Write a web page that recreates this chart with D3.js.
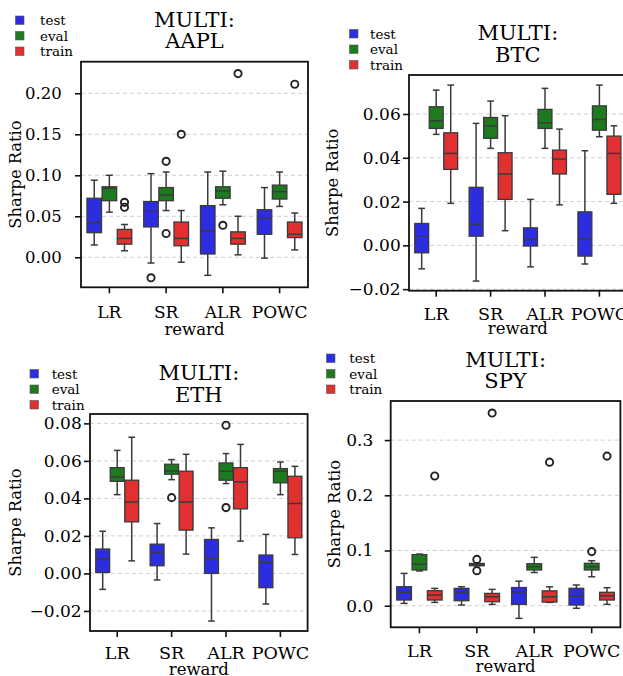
<!DOCTYPE html>
<html><head><meta charset="utf-8">
<script src="https://cdn.jsdelivr.net/npm/d3@7"></script>
<style>
body{margin:0;background:#fff}
svg{display:block}
text{font-family:"DejaVu Serif",serif;fill:#000}
</style>
</head><body><svg id="c" width="623" height="676"></svg>
<script>
// ---------- data ----------
const rewards = ["LR", "SR", "ALR", "POWC"];
const splits = ["test", "eval", "train"];
const splitColors = ["#2d2de0", "#1e7a1e", "#e03030"];
const xLabel = "reward";
const yLabel = "Sharpe Ratio";

// each box: [whiskerLow, q1, median, q3, whiskerHigh]
const aaplTest  = [[0.015,0.030,0.042,0.072,0.094],[-0.007,0.037,0.056,0.068,0.102],[-0.022,0.004,0.032,0.063,0.104],[-0.001,0.028,0.048,0.058,0.085]];
const aaplEval  = [[0.055,0.069,0.084,0.086,0.100],[0.057,0.069,0.076,0.085,0.104],[0.064,0.072,0.081,0.086,0.105],[0.062,0.071,0.080,0.088,0.104]];
const aaplTrain = [[0.008,0.016,0.023,0.034,0.040],[-0.006,0.014,0.023,0.043,0.057],[0.003,0.016,0.023,0.031,0.050],[0.009,0.024,0.028,0.043,0.054]];
const aaplOutliers = [["LR","train",0.067],["LR","train",0.061],["SR","test",-0.025],["SR","eval",0.117],["SR","eval",0.029],["SR","train",0.150],["ALR","eval",0.039],["ALR","train",0.224],["POWC","train",0.211]];
const aaplTicks = [0.00, 0.05, 0.10, 0.15, 0.20];

const btcTest  = [[-0.0107,-0.0034,0.0044,0.0100,0.0169],[-0.0163,0.0042,0.0097,0.0265,0.0557],[-0.0098,-0.0003,0.0027,0.0080,0.0210],[-0.0085,-0.0049,0.0029,0.0153,0.0432]];
const btcEval  = [[0.0507,0.0534,0.0569,0.0633,0.0709],[0.0443,0.0489,0.0546,0.0584,0.0659],[0.0443,0.0534,0.0560,0.0621,0.0717],[0.0496,0.0526,0.0575,0.0637,0.0732]];
const btcTrain = [[0.0192,0.0347,0.0420,0.0514,0.0732],[0.0067,0.0210,0.0326,0.0423,0.0592],[0.0185,0.0326,0.0394,0.0435,0.0531],[0.0192,0.0233,0.0420,0.0499,0.0546]];
const btcOutliers = [];
const btcTicks = [-0.02, 0.00, 0.02, 0.04, 0.06];

const ethTest  = [[-0.0085,0.0005,0.0076,0.0130,0.0225],[-0.0035,0.0041,0.0112,0.0156,0.0266],[-0.0254,0.0000,0.0080,0.0181,0.0243],[-0.0163,-0.0076,0.0057,0.0098,0.0208]];
const ethEval  = [[0.0420,0.0491,0.0514,0.0564,0.0656],[0.0500,0.0529,0.0546,0.0582,0.0607],[0.0479,0.0497,0.0545,0.0589,0.0639],[0.0420,0.0483,0.0545,0.0559,0.0594]];
const ethTrain = [[0.0067,0.0275,0.0381,0.0497,0.0726],[0.0103,0.0231,0.0381,0.0545,0.0635],[0.0172,0.0344,0.0488,0.0564,0.0688],[0.0101,0.0190,0.0373,0.0518,0.0571]];
const ethOutliers = [["SR","eval",0.0404],["ALR","eval",0.079],["ALR","eval",0.0351]];
const ethTicks = [-0.02, 0.00, 0.02, 0.04, 0.06, 0.08];

const spyTest  = [[0.0042,0.0103,0.0241,0.0344,0.0585],[0.0012,0.0090,0.0241,0.0314,0.0344],[-0.0229,0.0024,0.0248,0.0329,0.0444],[-0.0047,0.0013,0.0176,0.0315,0.0375]];
const spyEval  = [[0.0630,0.0647,0.0750,0.0925,0.0935],[0.0724,0.0724,0.0748,0.0766,0.0766],[0.0601,0.0647,0.0707,0.0761,0.0876],[0.0525,0.0647,0.0707,0.0768,0.0815]];
const spyTrain = [[0.0060,0.0103,0.0193,0.0272,0.0314],[0.0024,0.0072,0.0163,0.0223,0.0296],[0.0060,0.0066,0.0163,0.0269,0.0342],[0.0025,0.0103,0.0181,0.0243,0.0326]];
const spyOutliers = [["LR","train",0.235],["SR","eval",0.0839],["SR","eval",0.0634],["SR","train",0.349],["ALR","train",0.260],["POWC","eval",0.098],["POWC","train",0.271]];
const spyTicks = [0.0, 0.1, 0.2, 0.3];

// ---------- layout ----------
const panels = [
  {name:"AAPL", data:[aaplTest,aaplEval,aaplTrain], outliers:aaplOutliers, ticks:aaplTicks, fmt:".2f",
   L:81, R:308, T:61.7, B:287.3, yDomain:[-0.0366, 0.2385],
   tickFont:16.5, yLabRight:61.7, xTickBase:318, xLabBase:335, yLabX:15.7, titleBase:48.3,
   legX:15.5, legY:16, legTextX:40},
  {name:"BTC", data:[btcTest,btcEval,btcTrain], outliers:btcOutliers, ticks:btcTicks, fmt:".2f",
   L:409, R:626.6, T:75, B:290.7, yDomain:[-0.0207, 0.0778],
   tickFont:17, yLabRight:400.7, xTickBase:320, xLabBase:333.5, yLabX:332.7, titleBase:61.7,
   legX:349.5, legY:29.5, legTextX:370},
  {name:"ETH", data:[ethTest,ethEval,ethTrain], outliers:ethOutliers, ticks:ethTicks, fmt:".2f",
   L:90, R:307.6, T:414, B:631, yDomain:[-0.0307, 0.0850],
   tickFont:17, yLabRight:81.7, xTickBase:659, xLabBase:674.5, yLabX:15.5, titleBase:401.7,
   legX:30, legY:369.5, legTextX:51.7},
  {name:"SPY", data:[spyTest,spyEval,spyTrain], outliers:spyOutliers, ticks:spyTicks, fmt:".1f",
   L:390.7, R:620.4, T:401, B:627.3, yDomain:[-0.0391, 0.3708],
   tickFont:17, yLabRight:373.3, xTickBase:656.7, xLabBase:672, yLabX:334, titleBase:388.3,
   legX:326.5, legY:354, legTextX:349.3}
];

const svg = d3.select("#c");
const lineCol = "#3a3a3a";

panels.forEach(p => {
  const g = svg.append("g");
  const x = d3.scaleBand().domain(rewards).range([p.L, p.R]).paddingInner(0.2).paddingOuter(0.1);
  const xs = d3.scaleBand().domain(splits).range([0, x.bandwidth()]).padding(0);
  const y = d3.scaleLinear().domain(p.yDomain).range([p.B, p.T]);
  const tickLen = 6;

  // grid
  g.append("g").selectAll("line").data(p.ticks).join("line")
    .attr("x1", p.L).attr("x2", p.R).attr("y1", d => y(d)).attr("y2", d => y(d))
    .attr("stroke", "#cfcfcf").attr("stroke-width", 1).attr("stroke-dasharray", "4,3");

  // boxes
  const bw = xs.bandwidth();
  splits.forEach((s, si) => {
    rewards.forEach((r, ri) => {
      const [lo, q1, med, q3, hi] = p.data[si][ri];
      const cx = x(r) + xs(s) + bw / 2;
      const bg = g.append("g");
      bg.append("line").attr("x1", cx).attr("x2", cx).attr("y1", y(hi)).attr("y2", y(q3))
        .attr("stroke", lineCol).attr("stroke-width", 1.5);
      bg.append("line").attr("x1", cx).attr("x2", cx).attr("y1", y(q1)).attr("y2", y(lo))
        .attr("stroke", lineCol).attr("stroke-width", 1.5);
      [lo, hi].forEach(v => bg.append("line").attr("x1", cx - bw * 0.23).attr("x2", cx + bw * 0.23)
        .attr("y1", y(v)).attr("y2", y(v)).attr("stroke", lineCol).attr("stroke-width", 1.5));
      bg.append("rect").attr("x", cx - bw / 2 + 0.3).attr("width", bw - 0.6)
        .attr("y", y(q3)).attr("height", Math.max(0.5, y(q1) - y(q3)))
        .attr("fill", splitColors[si]).attr("stroke", lineCol).attr("stroke-width", 1.3);
      bg.append("line").attr("x1", cx - bw / 2 + 0.3).attr("x2", cx + bw / 2 - 0.3)
        .attr("y1", y(med)).attr("y2", y(med)).attr("stroke", lineCol).attr("stroke-width", 1.5);
    });
  });

  // outliers
  g.append("g").selectAll("circle").data(p.outliers).join("circle")
    .attr("cx", d => x(d[0]) + xs(d[1]) + bw / 2).attr("cy", d => y(d[2])).attr("r", 3.6)
    .attr("fill", "none").attr("stroke", "#222").attr("stroke-width", 1.9);

  // frame
  g.append("rect").attr("x", p.L).attr("y", p.T).attr("width", p.R - p.L).attr("height", p.B - p.T)
    .attr("fill", "none").attr("stroke", "#111").attr("stroke-width", 1.8);

  // y axis
  const ya = g.append("g").attr("transform", `translate(${p.L},0)`)
    .call(d3.axisLeft(y).tickValues(p.ticks).tickFormat(d3.format(p.fmt))
      .tickSize(tickLen).tickPadding(p.L - p.yLabRight - tickLen));
  ya.select(".domain").remove();
  ya.selectAll(".tick line").attr("stroke", "#111").attr("stroke-width", 1.6);
  ya.selectAll(".tick text").attr("font-family", "DejaVu Serif").attr("font-size", p.tickFont).attr("fill", "#111");

  // x axis
  const xFont = p.tickFont + 0.5;
  const xa = g.append("g").attr("transform", `translate(0,${p.B})`)
    .call(d3.axisBottom(x).tickSize(tickLen).tickPadding(p.xTickBase - p.B - tickLen - 0.71 * xFont));
  xa.select(".domain").remove();
  xa.selectAll(".tick line").attr("stroke", "#111").attr("stroke-width", 1.6);
  xa.selectAll(".tick text").attr("font-family", "DejaVu Serif").attr("font-size", xFont).attr("fill", "#111");

  // axis labels
  g.append("text").attr("x", (p.L + p.R) / 2).attr("y", p.xLabBase).attr("text-anchor", "middle")
    .attr("font-size", 16.5).text(xLabel);
  g.append("text").attr("transform", `translate(${p.yLabX},${(p.T + p.B) / 2}) rotate(-90)`)
    .attr("text-anchor", "middle").attr("dy", "0.35em").attr("font-size", 16.3).text(yLabel);

  // title
  const tt = g.append("text").attr("text-anchor", "middle").attr("font-size", 21);
  tt.append("tspan").attr("x", (p.L + p.R) / 2).attr("y", p.titleBase - 21.6).text("MULTI:");
  tt.append("tspan").attr("x", (p.L + p.R) / 2).attr("y", p.titleBase).text(p.name);

  // legend
  splits.forEach((s, i) => {
    g.append("rect").attr("x", p.legX).attr("y", p.legY + i * 15.5).attr("width", 8.5).attr("height", 8.5)
      .attr("fill", splitColors[i]).attr("stroke", "#555").attr("stroke-width", 0.6);
    g.append("text").attr("x", p.legTextX).attr("y", p.legY + i * 15.5 + 9).attr("font-size", 13.5).text(s);
  });
});
</script>
</body></html>
